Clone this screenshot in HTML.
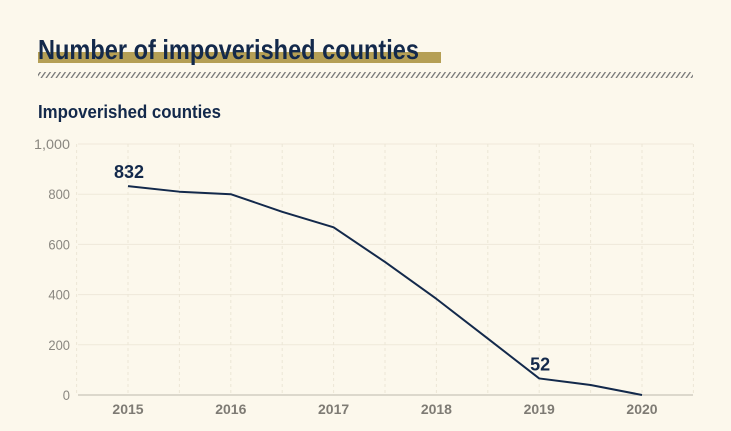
<!DOCTYPE html>
<html><head><meta charset="utf-8"><style>
body{margin:0;background:#fcf8ec;width:731px;height:431px;overflow:hidden;font-family:"Liberation Sans",sans-serif}
svg{display:block}
</style></head><body>
<svg width="731" height="431">
<defs><pattern id="hatch" width="5" height="6" patternUnits="userSpaceOnUse" patternTransform="skewX(-35)"><rect width="1.6" height="6" fill="#7a7a7a"/></pattern></defs>
<rect x="38" y="52" width="403" height="11" fill="#b59f55"/>
<text x="38" y="59" font-size="28" font-weight="bold" fill="#13294b" textLength="381" lengthAdjust="spacingAndGlyphs">Number of impoverished counties</text>
<rect x="38" y="72" width="655" height="6" fill="url(#hatch)"/>
<text x="38" y="118" font-size="18" font-weight="bold" fill="#13294b" textLength="183" lengthAdjust="spacingAndGlyphs">Impoverished counties</text>
<g id="grid"></g><g id="axes"></g><g id="marks"></g>
</svg>
<script>
const years=[2015,2016,2017,2018,2019,2020];
const xs=[2015,2015.5,2016,2016.5,2017,2017.5,2018,2018.5,2019,2019.5,2020];
const values=[832,810,800,730,668,530,383,225,66,40,0];
const yTicks=[0,200,400,600,800,1000];
const yTickLabels=["0","200","400","600","800","1,000"];
const labelYears=[2015,2019];
const labelTexts=["832","52"];
const labelValues=[832,66];
const NS="http://www.w3.org/2000/svg";
const X=v=>128+(v-2015)*102.8, Y=v=>395-v*0.251;
function mk(p,t,a){const e=document.createElementNS(NS,t);for(const k in a)e.setAttribute(k,a[k]);document.getElementById(p).appendChild(e);return e;}
yTicks.forEach((t,i)=>{
 const l=mk('grid','line',{x1:78,x2:693,y1:Y(t),y2:Y(t),stroke:t===0?'#c8c4b8':'#efe9da','stroke-width':t===0?1.3:1});
 
 
 const tx=mk('axes','text',{x:70,y:Y(t)+5,'text-anchor':'end','font-size':14,fill:'#8a8780',textLength:String(yTickLabels[i].length*7.2),lengthAdjust:'spacingAndGlyphs'});
 tx.textContent=yTickLabels[i];
 
 
});
for(let v=2014.5;v<=2020.5;v+=0.5){
 const l=mk('grid','line',{x1:X(v),x2:X(v),y1:Y(1000),y2:Y(0),stroke:'#ece6d6','stroke-dasharray':'3,3'});
 
 
}
years.forEach(y=>{
 const t=mk('axes','text',{x:X(y),y:414,'text-anchor':'middle','font-size':14,'font-weight':'bold',fill:'#7e7b74'});
 t.textContent=y;
 
 
});
const p=mk('marks','polyline',{points:xs.map((x,i)=>X(x)+','+Y(values[i])).join(' '),fill:'none',stroke:'#13294b','stroke-width':2,'stroke-linejoin':'round'});


labelYears.forEach((y,i)=>{
 const t=mk('marks','text',{x:X(y)+1,y:Y(labelValues[i])-8,'text-anchor':'middle','font-size':18,'font-weight':'bold',fill:'#13294b'});
 t.textContent=labelTexts[i];
 
 
});
</script>
</body></html>
